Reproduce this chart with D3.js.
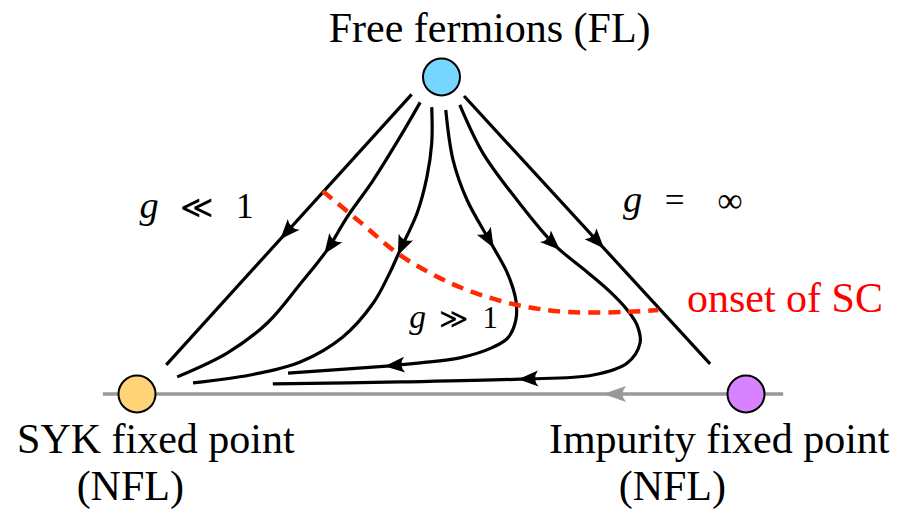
<!DOCTYPE html>
<html>
<head>
<meta charset="utf-8">
<title>RG flow diagram</title>
<script src="https://cdn.jsdelivr.net/npm/d3@7"></script>
<style>
svg text.serif { font-family: "Liberation Serif", "Times New Roman", serif !important; }
svg text.symb { font-family: "DejaVu Serif", "Liberation Serif", serif !important; }
</style>
</head>
<body style="margin:0;background:#ffffff">
<div id="chart"></div>
<script>
// ---- data (diagram units: SYK=(0,0), Impurity=(100,0), FL=(50,100)) ----
const fixedPointNames = ["FL", "SYK", "Impurity"];
const fixedPointX = [50, 0, 100];
const fixedPointY = [100, 0, 0];

const flow1 = [[45.1,94.5],[4.8,9.2]];
const flow2 = [[46.5,92.0],[43.2,81.1],[38.8,67.5],[34.5,55.8],[31.2,45.4],[26.8,34.7],[21.4,22.4],[14.8,12.9],[6.6,5.4]];
const flow3 = [[48.4,90.5],[48.4,79.2],[47.6,68.4],[46.0,57.1],[43.2,45.4],[41.5,38.2],[38.8,28.7],[33.8,18.0],[26.8,10.1],[18.6,6.0],[9.2,3.5]];
const flow4 = [[50.7,89.6],[51.9,73.8],[54.2,61.2],[58.0,48.0],[60.8,38.2],[62.2,29.7],[62.2,23.3],[60.9,17.7],[58.5,14.8],[53.0,11.4],[46.5,9.8],[41.0,8.8],[24.8,6.6]];
const flow5 = [[53.0,91.2],[56.8,76.0],[62.4,61.2],[68.6,47.0],[73.9,38.5],[77.7,32.2],[80.5,26.5],[82.1,21.8],[82.6,16.1],[80.5,9.8],[74.9,6.0],[62.9,4.7],[43.2,3.8],[22.3,3.2]];
const flow6 = [[53.7,94.0],[94.1,9.5]];
const flowArrowTips = [
  [[23.6,49.5]],
  [[30.9,44.8]],
  [[42.9,44.5]],
  [[58.5,46.7],[41.0,8.8]],
  [[69.3,46.1],[62.9,4.7]],
  [[76.3,46.1]]
];
const scOnset = [[30.5,64.0],[36.6,54.3],[42.7,44.5],[48.1,38.2],[54.2,32.8],[62.4,28.1],[70.6,25.9],[80.5,25.9],[85.6,26.5]];
const impurityAxis = [[106.1,0],[-5.6,0]];
const impurityAxisArrowTip = [76.9,0];

const labelTexts = ["Free fermions (FL)", "SYK fixed point", "(NFL)", "Impurity fixed point", "(NFL)", "onset of SC"];
const labelX = [57.9, 3.1, -1.1, 95.6, 87.9, 90.3];
const labelY = [111.0, -18.6, -33.4, -18.6, -33.4, 25.9];

const mathParts = [["g","\u226A","1"], ["g","=","\u221E"], ["g","\u226B","1"]];
const mathX = [[2.0, 9.9, 17.7], [81.4, 88.3, 97.4], [46.1, 52.0, 58.0]];
const mathY = [55.5, 57.4, 20.8];

// ---- rendering ----
const svg = d3.select("#chart").append("svg")
  .attr("width", 905).attr("height", 512).style("display", "block");
const x = d3.scaleLinear().domain([0,100]).range([137,746]);
const y = d3.scaleLinear().domain([0,100]).range([394,77]);
const smooth = d3.line().x(d=>x(d[0])).y(d=>y(d[1])).curve(d3.curveCatmullRom.alpha(0.5));

function arrowHead(g, pathNode, tip, color, L, W) {
  const total = pathNode.getTotalLength();
  const tx = x(tip[0]), ty = y(tip[1]);
  let best = 0, bestD = Infinity;
  for (let l = 0; l <= total; l += 0.5) {
    const p = pathNode.getPointAtLength(l);
    const d = (p.x-tx)*(p.x-tx)+(p.y-ty)*(p.y-ty);
    if (d < bestD) { bestD = d; best = l; }
  }
  const a = pathNode.getPointAtLength(Math.max(0,best-3));
  const b = pathNode.getPointAtLength(Math.min(total,best+1));
  const p = pathNode.getPointAtLength(best);
  const ang = Math.atan2(b.y-a.y, b.x-a.x)*180/Math.PI;
  g.append("path")
    .attr("d", "M2,0 L" + (-L) + "," + (-W) + " Q" + (-0.65*L) + ",0 " + (-L) + "," + W + " Z")
    .attr("transform", "translate(" + p.x + "," + p.y + ") rotate(" + ang + ")")
    .attr("fill", color);
}

// gray axis with arrow
const axisG = svg.append("g");
const axisPath = axisG.append("path").attr("d", smooth(impurityAxis))
  .attr("fill","none").attr("stroke","#999999").attr("stroke-width",3.5);
arrowHead(axisG, axisPath.node(), impurityAxisArrowTip, "#999999", 21, 8);

// flow lines
const flowG = svg.append("g");
[flow1, flow2, flow3, flow4, flow5, flow6].forEach((f,i) => {
  const p = flowG.append("path").attr("d", smooth(f))
    .attr("fill","none").attr("stroke","#000000").attr("stroke-width",3.2);
  flowArrowTips[i].forEach(t => arrowHead(flowG, p.node(), t, "#000000", 18, 8));
});

// onset of SC
svg.append("path").attr("d", smooth(scOnset))
  .attr("fill","none").attr("stroke","#ff2a00").attr("stroke-width",4.5)
  .attr("stroke-dasharray","12,8");

// fixed points
const fpColors = ["#76D6FF", "#FFD479", "#D783FF"];
svg.append("g").selectAll("circle").data(fixedPointNames).join("circle")
  .attr("cx",(d,i)=>x(fixedPointX[i])).attr("cy",(d,i)=>y(fixedPointY[i]))
  .attr("r",18.5).attr("fill",(d,i)=>fpColors[i]).attr("stroke","#000000").attr("stroke-width",2);

// labels
const anchors = ["middle","middle","middle","middle","middle","start"];
labelTexts.forEach((t,i) => {
  svg.append("text").attr("class","serif")
    .attr("x", x(labelX[i])).attr("y", y(labelY[i]))
    .attr("text-anchor", anchors[i])
    .attr("style", 'font-family: "Liberation Serif", "Times New Roman", serif !important; font-size: 42px;')
    .attr("fill", i===5 ? "#ff0000" : "#000000")
    .text(t);
});

// math labels
const mathSizes = [32, 32, 28];
mathParts.forEach((parts,k) => {
  parts.forEach((s,j) => {
    const isRel = (s==="\u226A" || s==="\u226B");
    const fs = s==="g" ? mathSizes[k]*1.2 : (isRel ? mathSizes[k] : mathSizes[k]*1.1);
    const fam = isRel ? '"DejaVu Serif", "Liberation Serif", serif' : '"Liberation Serif", "Times New Roman", serif';
    svg.append("text").attr("class", isRel ? "symb" : "serif")
      .attr("x", x(mathX[k][j])).attr("y", y(mathY[k]))
      .attr("text-anchor","middle")
      .attr("style", "font-family: " + fam + " !important; font-size: " + fs + "px;" + (s==="g" ? " font-style: italic;" : ""))
      .attr("fill","#000000").text(s);
  });
});
</script>
</body>
</html>
